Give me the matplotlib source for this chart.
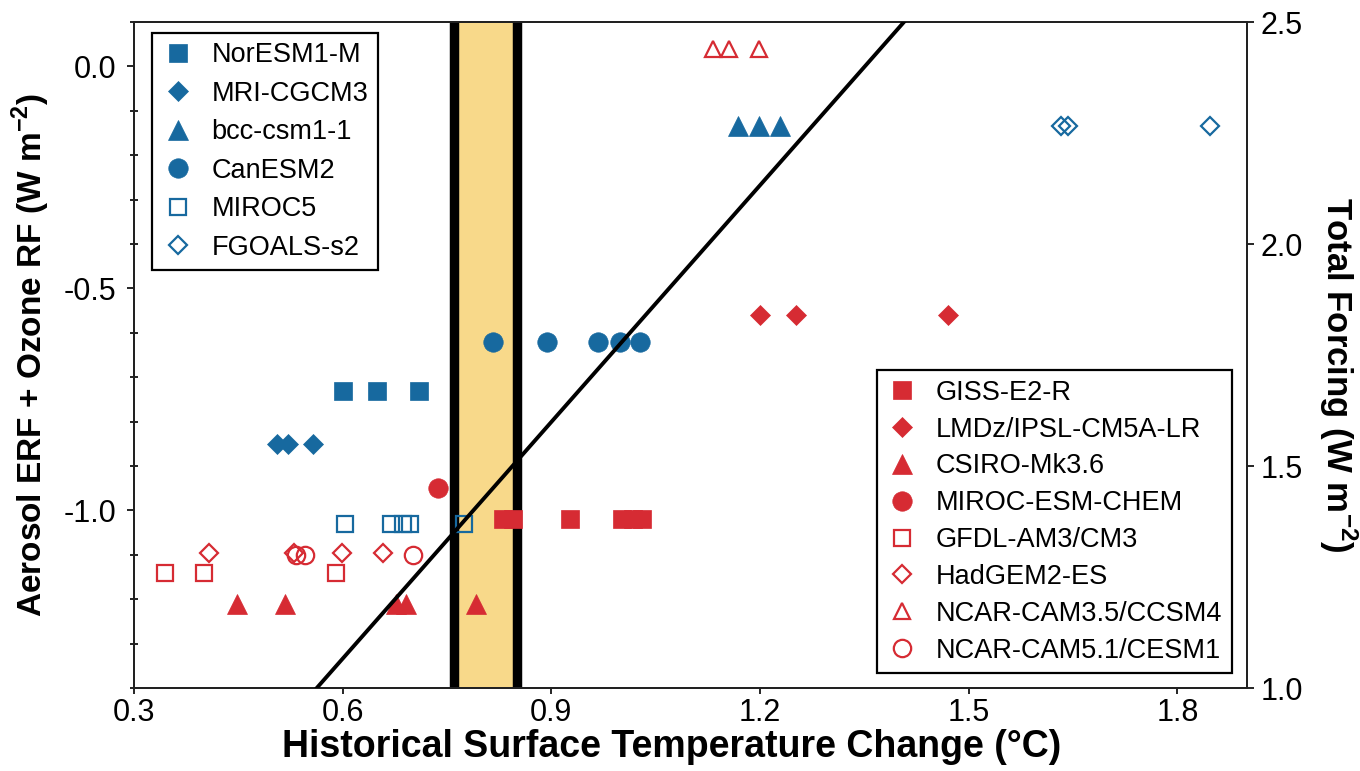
import numpy as np
import matplotlib
matplotlib.use('Agg')
import matplotlib.pyplot as plt
from matplotlib.lines import Line2D
from matplotlib.ticker import MultipleLocator

plt.rcParams['font.family'] = ['Liberation Sans', 'DejaVu Sans']
plt.rcParams['axes.unicode_minus'] = False
plt.rcParams['mathtext.fontset'] = 'custom'
plt.rcParams['mathtext.rm'] = 'Liberation Sans'
plt.rcParams['mathtext.bf'] = 'Liberation Sans:bold'

# 색상
BLUE = '#17699f'
RED = '#d62b33'

# 모델별 (기온 변화, 에어로졸 ERF + 오존 RF)
noresm_x = [0.60, 0.65, 0.71]
noresm_y = [-0.73, -0.73, -0.73]
mri_x = [0.505, 0.522, 0.557]
mri_y = [-0.85, -0.85, -0.85]
bcc_x = [1.168, 1.198, 1.229]
bcc_y = [-0.135, -0.135, -0.135]
canesm_x = [0.816, 0.894, 0.967, 0.999, 1.027]
canesm_y = [-0.62, -0.62, -0.62, -0.62, -0.62]
miroc5_x = [0.603, 0.669, 0.687, 0.697, 0.774]
miroc5_y = [-1.03, -1.03, -1.03, -1.03, -1.03]
fgoals_x = [1.632, 1.642, 1.847]
fgoals_y = [-0.135, -0.135, -0.135]

giss_x = [0.830, 0.845, 0.927, 1.002, 1.017, 1.030]
giss_y = [-1.02, -1.02, -1.02, -1.02, -1.02, -1.02]
lmdz_x = [1.200, 1.252, 1.470]
lmdz_y = [-0.56, -0.56, -0.56]
csiro_x = [0.448, 0.517, 0.677, 0.691, 0.792]
csiro_y = [-1.21, -1.21, -1.21, -1.21, -1.21]
mirocchem_x = [0.737]
mirocchem_y = [-0.95]
gfdl_x = [0.345, 0.401, 0.590]
gfdl_y = [-1.14, -1.14, -1.14]
hadgem_x = [0.408, 0.530, 0.599, 0.658]
hadgem_y = [-1.095, -1.095, -1.095, -1.095]
ncar35_x = [1.132, 1.155, 1.198]
ncar35_y = [0.04, 0.04, 0.04]
ncar51_x = [0.533, 0.546, 0.701]
ncar51_y = [-1.10, -1.10, -1.10]

# 관측 기온 범위, 총 강제력 기울기 (W m-2 / °C)
obs_low, obs_high = 0.76, 0.851
forcing_slope = 1.777
forcing_offset = 2.4  # 총 강제력 = 에어로졸 + 2.4

series = [
    ('NorESM1-M', noresm_x, noresm_y, 's', BLUE, True),
    ('MRI-CGCM3', mri_x, mri_y, 'D', BLUE, True),
    ('bcc-csm1-1', bcc_x, bcc_y, '^', BLUE, True),
    ('CanESM2', canesm_x, canesm_y, 'o', BLUE, True),
    ('MIROC5', miroc5_x, miroc5_y, 's', BLUE, False),
    ('FGOALS-s2', fgoals_x, fgoals_y, 'D', BLUE, False),
    ('GISS-E2-R', giss_x, giss_y, 's', RED, True),
    ('LMDz/IPSL-CM5A-LR', lmdz_x, lmdz_y, 'D', RED, True),
    ('CSIRO-Mk3.6', csiro_x, csiro_y, '^', RED, True),
    ('MIROC-ESM-CHEM', mirocchem_x, mirocchem_y, 'o', RED, True),
    ('GFDL-AM3/CM3', gfdl_x, gfdl_y, 's', RED, False),
    ('HadGEM2-ES', hadgem_x, hadgem_y, 'D', RED, False),
    ('NCAR-CAM3.5/CCSM4', ncar35_x, ncar35_y, '^', RED, False),
    ('NCAR-CAM5.1/CESM1', ncar51_x, ncar51_y, 'o', RED, False),
]

size_filled = {'s': 13, 'D': 10, '^': 14, 'o': 14}
size_open = {'s': 12, 'D': 9, '^': 12, 'o': 12.5}


def marker_style(marker, color, filled):
    if filled:
        return dict(marker=marker, linestyle='none', color=color,
                    markersize=size_filled[marker], markeredgewidth=0.5)
    return dict(marker=marker, linestyle='none', color=color,
                markerfacecolor='none', markersize=size_open[marker],
                markeredgewidth=1.6)


fig = plt.figure(figsize=(13.6, 7.71), dpi=100)
ax = fig.add_axes([134 / 1360, 1 - 688 / 771, 1113 / 1360, 666 / 771])

ax.set_xlim(0.3, 1.9)
ax.set_ylim(-1.4, 0.1)

# 관측 범위 음영
ax.axvspan(obs_low, obs_high, color='#f8d98a', zorder=1, lw=0)
ax.axvline(obs_low, color='black', lw=6.8, zorder=2)
ax.axvline(obs_high, color='black', lw=6.8, zorder=2)

handles = []
for name, xs, ys, mk, col, filled in series:
    ax.plot(xs, ys, zorder=3, **marker_style(mk, col, filled))
    handles.append(Line2D([], [], label=name, **marker_style(mk, col, filled)))

ax.set_xticks([0.3, 0.6, 0.9, 1.2, 1.5, 1.8])
ax.set_xticklabels(['0.3', '0.6', '0.9', '1.2', '1.5', '1.8'])
ax.set_yticks([-1.0, -0.5, 0.0])
ax.set_yticklabels(['-1.0', '-0.5', '0.0'])
ax.yaxis.set_minor_locator(MultipleLocator(0.1))
ax.tick_params(axis='y', which='major', direction='out', length=5, width=1.2,
               labelsize=22, pad=8)
ax.tick_params(axis='y', which='minor', direction='inout', length=6, width=1.2)
ax.tick_params(axis='x', which='major', direction='out', length=4, width=1.2,
               labelsize=22, pad=3)
for sp in ax.spines.values():
    sp.set_linewidth(1.4)
    sp.set_color('#222222')

ax.set_xlabel('Historical Surface Temperature Change (°C)', fontsize=27,
              fontweight='bold')
ax.xaxis.set_label_coords(0.483, -0.062)
ax.set_ylabel(r'Aerosol ERF + Ozone RF (W m$^{\mathbf{-2}}$)', fontsize=24,
              fontweight='bold')
ax.yaxis.set_label_coords(-0.074, 0.5)

# 오른쪽 축: 총 강제력
ax2 = ax.twinx()
ax2.set_ylim(-1.4 + forcing_offset, 0.1 + forcing_offset)
ax2.set_yticks([1.0, 1.5, 2.0, 2.5])
ax2.set_yticklabels(['1.0', '1.5', '2.0', '2.5'])
ax2.tick_params(axis='y', direction='out', length=5, width=1.2, labelsize=22, pad=5)
for sp in ax2.spines.values():
    sp.set_linewidth(1.4)
    sp.set_color('#222222')
ax2.set_ylabel(r'Total Forcing (W m$^{\mathbf{-2}}$)', fontsize=25,
               fontweight='bold', rotation=270)
ax2.yaxis.set_label_coords(1.101, 0.47)

line_t = np.array([0.3, 1.9])
ax2.plot(line_t, forcing_slope * line_t, color='black', lw=2.8, zorder=5)
ax2.set_xlim(0.3, 1.9)

legend_kw = dict(fontsize=19.5, frameon=True, fancybox=False, edgecolor='black',
                 framealpha=1, borderpad=0.35, handlelength=1.2,
                 handletextpad=0.65, borderaxespad=0)

leg1 = ax2.legend(handles=handles[:6], loc='upper left', labelspacing=0.46,
                  bbox_to_anchor=(0.0162, 0.9835), **legend_kw)
leg1.get_frame().set_linewidth(1.6)
ax2.add_artist(leg1)
leg2 = ax2.legend(handles=handles[6:], loc='lower right', labelspacing=0.4,
                  bbox_to_anchor=(0.9865, 0.0225), **legend_kw)
leg2.get_frame().set_linewidth(1.6)

fig.savefig('out.png', dpi=100)
